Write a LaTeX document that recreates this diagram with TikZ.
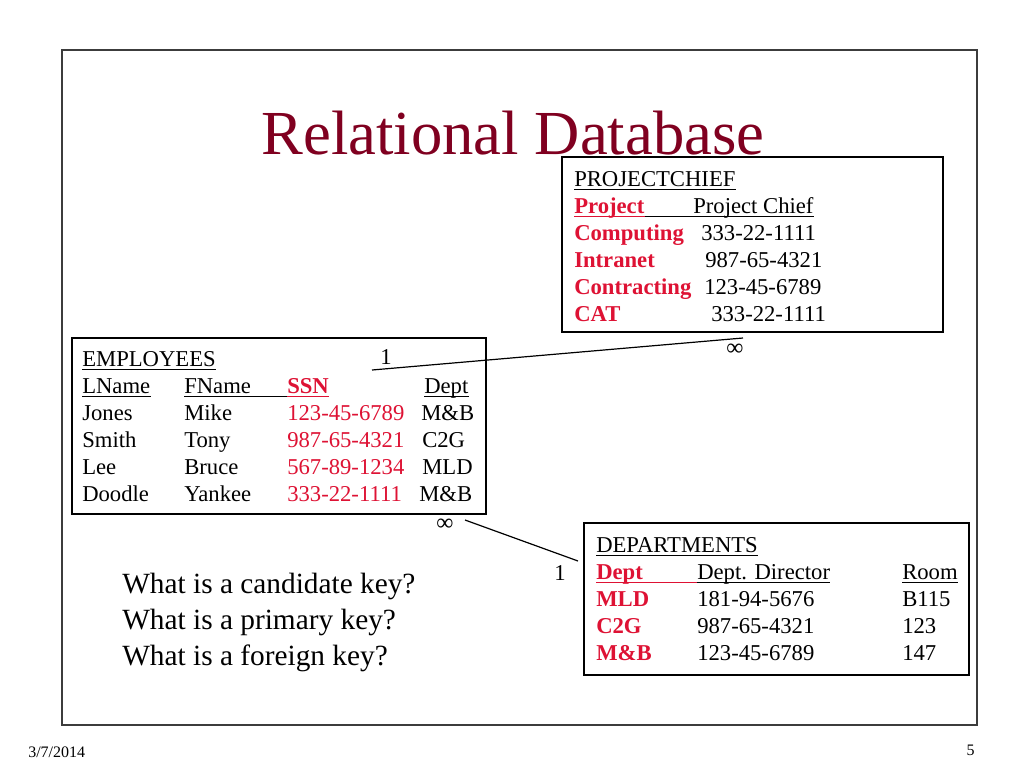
\documentclass[tikz,border=0pt]{standalone}
\usepackage{fontspec}
\setmainfont{Liberation Serif}
\definecolor{keyred}{RGB}{222,18,52}
\definecolor{titlered}{RGB}{128,0,32}
\definecolor{framegray}{RGB}{60,60,60}
\begin{document}
\begin{tikzpicture}[x=0.75pt,y=-0.75pt,
  txt/.style={anchor=base west,inner sep=0pt,font=\fontsize{17}{20}\selectfont},
  keyb/.style={anchor=base west,inner sep=0pt,text=keyred,font=\fontsize{17}{20}\selectfont\bfseries},
  keyn/.style={anchor=base west,inner sep=0pt,text=keyred,font=\fontsize{17}{20}\selectfont},
  qtxt/.style={anchor=base west,inner sep=0pt,font=\fontsize{22}{26}\selectfont},
  small/.style={inner sep=0pt,font=\fontsize{12}{14}\selectfont},
  tbox/.style={draw=black,line width=1.1pt},
  ul/.style={line width=0.8pt},
  conn/.style={draw=black,line width=0.9pt}
]
\useasboundingbox (0,0) rectangle (1024,768);
\fill[white] (0,0) rectangle (1024,768);
% slide frame
\draw[framegray,line width=1.1pt] (62,50) rectangle (977,725);
% title
\node[anchor=base,inner sep=0pt,text=titlered,font=\fontsize{47}{54}\selectfont] (title) at (513,154) {Relational Database};

% PROJECTCHIEF table
\draw[tbox] (562,157) rectangle (943,332);
\node[txt] (pch) at (574,186) {PROJECTCHIEF};
\node[keyb] (pproj) at (574,213) {Project};
\node[txt] (pchief) at (693,213) {Project Chief};
\node[keyb] (p1k) at (574,240) {Computing};
\node[txt] (p1v) at (701,240) {333-22-1111};
\node[keyb] (p2k) at (574,267) {Intranet};
\node[txt] (p2v) at (705,267) {987-65-4321};
\node[keyb] (p3k) at (574,294) {Contracting};
\node[txt] (p3v) at (704,294) {123-45-6789};
\node[keyb] (p4k) at (574,321) {CAT};
\node[txt] (p4v) at (711,321) {333-22-1111};
\draw[ul] ([yshift=-2.4pt]pch.base west) -- ([yshift=-2.4pt]pch.base east);
\draw[ul,keyred] ([yshift=-2.4pt]pproj.base west) -- ([yshift=-2.4pt]pproj.base east);
\draw[ul] ([yshift=-2.4pt]pproj.base east) -- ([yshift=-2.4pt]pchief.base east);
\node[inner sep=0pt,font=\fontsize{18}{20}\selectfont] (inf1) at (735,350) {∞};

% EMPLOYEES table
\draw[tbox] (72,338) rectangle (486,514);
\node[txt] (emp) at (82,366) {EMPLOYEES};
\node[txt] (one1) at (380,364) {1};
\node[txt] (hln) at (82,393) {LName};
\node[txt] (hfn) at (184,393) {FName};
\node[keyb] (hssn) at (287,393) {SSN};
\node[txt] (hdept) at (424,393) {Dept};
\draw[ul] ([yshift=-2.4pt]emp.base west) -- ([yshift=-2.4pt]emp.base east);
\draw[ul] ([yshift=-2.4pt]hln.base west) -- ([yshift=-2.4pt]hln.base east);
\draw[ul] ([yshift=-2.4pt]hfn.base west) -- ([yshift=-2.4pt]hssn.base west);
\draw[ul,keyred] ([yshift=-2.4pt]hssn.base west) -- ([yshift=-2.4pt]hssn.base east);
\draw[ul] ([yshift=-2.4pt]hdept.base west) -- ([yshift=-2.4pt]hdept.base east);
\node[txt] (e1l) at (82,420) {Jones};
\node[txt] (e1f) at (184,420) {Mike};
\node[keyn] (e1s) at (287,420) {123-45-6789};
\node[txt] (e1d) at (421,420) {M\&B};
\node[txt] (e2l) at (82,447) {Smith};
\node[txt] (e2f) at (184,447) {Tony};
\node[keyn] (e2s) at (287,447) {987-65-4321};
\node[txt] (e2d) at (422,447) {C2G};
\node[txt] (e3l) at (82,474) {Lee};
\node[txt] (e3f) at (184,474) {Bruce};
\node[keyn] (e3s) at (287,474) {567-89-1234};
\node[txt] (e3d) at (422,474) {MLD};
\node[txt] (e4l) at (82,501) {Doodle};
\node[txt] (e4f) at (184,501) {Yankee};
\node[keyn] (e4s) at (287,501) {333-22-1111};
\node[txt] (e4d) at (419,501) {M\&B};
\node[inner sep=0pt,font=\fontsize{18}{20}\selectfont] (inf2) at (445,525) {∞};

% DEPARTMENTS table
\draw[tbox] (584,523) rectangle (969,675);
\node[txt] (dep) at (596,552) {DEPARTMENTS};
\node[keyb] (hdk) at (596,579) {Dept};
\node[txt] (hdd) at (697,579) {Dept. Director};
\node[txt] (hdr) at (902,579) {Room};
\draw[ul] ([yshift=-2.4pt]dep.base west) -- ([yshift=-2.4pt]dep.base east);
\draw[ul,keyred] ([yshift=-2.4pt]hdk.base west) -- ([yshift=-2.4pt]hdd.base west);
\draw[ul] ([yshift=-2.4pt]hdd.base west) -- ([yshift=-2.4pt]hdd.base east);
\draw[ul] ([yshift=-2.4pt]hdr.base west) -- ([yshift=-2.4pt]hdr.base east);
\node[keyb] (d1k) at (596,606) {MLD};
\node[txt] (d1d) at (697,606) {181-94-5676};
\node[txt] (d1r) at (902,606) {B115};
\node[keyb] (d2k) at (596,633) {C2G};
\node[txt] (d2d) at (697,633) {987-65-4321};
\node[txt] (d2r) at (902,633) {123};
\node[keyb] (d3k) at (596,660) {M\&B};
\node[txt] (d3d) at (697,660) {123-45-6789};
\node[txt] (d3r) at (902,660) {147};
\node[txt] (one2) at (554,580) {1};

% connectors
\coordinate (c1a) at (372,370);
\coordinate (c1b) at (743,338);
\draw[conn] (c1a) -- (c1b);
\coordinate (c2a) at (465,520);
\coordinate (c2b) at (578,561);
\draw[conn] (c2a) -- (c2b);

% questions
\node[qtxt] (q1) at (122,593) {What is a candidate key?};
\node[qtxt] (q2) at (122,629) {What is a primary key?};
\node[qtxt] (q3) at (122,665) {What is a foreign key?};

% footer
\node[small,anchor=base west] (date) at (28,757) {3/7/2014};
\node[small,anchor=base east] (pnum) at (975,755) {5};
\end{tikzpicture}
\end{document}
